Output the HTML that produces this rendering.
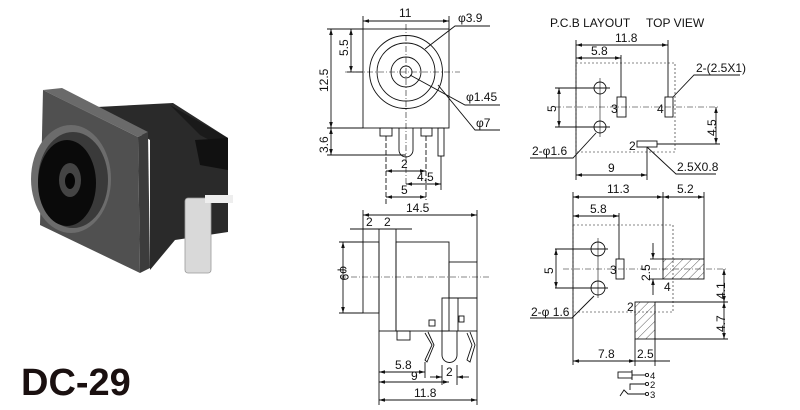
<!DOCTYPE html>
<html><head><meta charset="utf-8"><style>
html,body{margin:0;padding:0;background:#fff;width:800px;height:410px;overflow:hidden}
svg{display:block}
text{font-family:"Liberation Sans",Arial,sans-serif;fill:#111}
</style></head><body>
<svg width="800" height="410" viewBox="0 0 800 410" xmlns="http://www.w3.org/2000/svg">
<defs>
<marker id="a" viewBox="0 0 10 6" refX="10" refY="3" markerWidth="8" markerHeight="4" orient="auto-start-reverse"><path d="M0,0L10,3L0,6z" fill="#111"/></marker>
<pattern id="h" width="6" height="6" patternUnits="userSpaceOnUse" patternTransform="rotate(45)"><line x1="0" y1="0" x2="0" y2="6" stroke="#333" stroke-width="0.8"/></pattern>
</defs>

<!-- photo -->
<g>
<polygon points="97,107 173,103 228,138 228,232 175,240 150,270 150,140" fill="#2a2a2a"/>
<polygon points="170,105 228,138 228,150 200,135" fill="#1a1a1a"/>
<polygon points="195,140 228,138 228,170 200,165" fill="#111"/>
<polygon points="43,90 62,88 148,132 138,137" fill="#6a6a6a"/>
<polygon points="138,137 148,132 150,268 140,273" fill="#3c3c3c"/>
<polygon points="43,90 138,137 140,273 40,225" fill="#505050"/>
<ellipse cx="71" cy="179" rx="40" ry="54" fill="#6c6c6c"/>
<ellipse cx="73" cy="180" rx="35" ry="48" fill="#3a3a3a"/>
<ellipse cx="67" cy="183" rx="29" ry="43" fill="#0a0a0a"/>
<ellipse cx="70" cy="180" rx="11" ry="17" fill="#444"/>
<ellipse cx="70" cy="181" rx="5" ry="8" fill="#050505"/>
<rect x="185" y="198" width="26" height="75" rx="3" fill="#d9d9d9" stroke="#999" stroke-width="0.8"/>
<rect x="205" y="195" width="28" height="8" fill="#eee"/>
</g>
<text x="21" y="395" font-size="38" font-weight="bold" style="fill:#1a1010">DC-29</text>

<g stroke="#111" stroke-width="0.9" fill="none">
<!-- front view -->
<rect x="363" y="29" width="86" height="99"/>
<circle cx="406" cy="72" r="36.5"/>
<circle cx="406" cy="72" r="29"/>
<circle cx="406" cy="72" r="15"/>
<circle cx="406" cy="72" r="6"/>
<line x1="406" y1="24" x2="406" y2="185" stroke-dasharray="6,2,1,2" stroke-width="0.6"/>
<line x1="345" y1="72" x2="460" y2="72" stroke-dasharray="6,2,1,2" stroke-width="0.6"/>
<rect x="380" y="128" width="12" height="8"/>
<rect x="421" y="128" width="11" height="8"/>
<path d="M399,128V150a7,7 0 0 0 14,0V128"/>
<rect x="438" y="128" width="6" height="28"/>
<line x1="363" y1="29" x2="363" y2="16"/><line x1="449" y1="29" x2="449" y2="16"/>
<line x1="363" y1="21" x2="449" y2="21" marker-start="url(#a)" marker-end="url(#a)"/>
<line x1="327" y1="29" x2="363" y2="29"/><line x1="327" y1="128" x2="363" y2="128"/>
<line x1="331" y1="29" x2="331" y2="128" marker-start="url(#a)" marker-end="url(#a)"/>
<line x1="347" y1="72" x2="363" y2="72"/>
<line x1="351" y1="29" x2="351" y2="72" marker-start="url(#a)" marker-end="url(#a)"/>
<line x1="327" y1="155" x2="406" y2="155"/>
<line x1="331" y1="128" x2="331" y2="155" marker-start="url(#a)" marker-end="url(#a)"/>
<line x1="386" y1="136" x2="386" y2="205" stroke-dasharray="5,2"/>
<line x1="426" y1="136" x2="426" y2="200" stroke-dasharray="5,2"/>
<line x1="441" y1="156" x2="441" y2="190"/>
<line x1="386" y1="171" x2="426" y2="171" marker-start="url(#a)" marker-end="url(#a)"/>
<line x1="406" y1="184" x2="441" y2="184" marker-start="url(#a)" marker-end="url(#a)"/>
<line x1="386" y1="197" x2="426" y2="197" marker-start="url(#a)" marker-end="url(#a)"/>
<polyline points="425,49 455,26 490,26"/>
<polyline points="410,75 465,105 500,105"/>
<polyline points="438,85 475,130 500,130"/>

<!-- side view -->
<line x1="363" y1="215" x2="477" y2="215" marker-start="url(#a)" marker-end="url(#a)"/>
<line x1="363" y1="210" x2="363" y2="242"/><line x1="477" y1="210" x2="477" y2="262"/>
<line x1="350" y1="229" x2="412" y2="229"/>
<rect x="363" y="242" width="16" height="71"/>
<rect x="379" y="229" width="17" height="102"/>
<rect x="396" y="242" width="53" height="89"/>
<rect x="449" y="262" width="28" height="36"/>
<rect x="442" y="298" width="35" height="33"/>
<line x1="458" y1="298" x2="458" y2="331"/>
<line x1="340" y1="277" x2="490" y2="277" stroke-dasharray="6,2,1,2" stroke-width="0.6"/>
<line x1="339" y1="242" x2="363" y2="242"/><line x1="339" y1="313" x2="363" y2="313"/>
<line x1="343" y1="242" x2="343" y2="313" marker-start="url(#a)" marker-end="url(#a)"/>
<rect x="397" y="331" width="13" height="9"/>
<rect x="429" y="320" width="6" height="6"/>
<rect x="459" y="316" width="5" height="6"/>
<polyline points="425,333 432,345 425,360 427,362 434,345 428,332"/>
<path d="M442,331V355a7.5,7.5 0 0 0 15,0V331"/>
<polyline points="467,333 472,345 467,360 470,362 475,345 470,332"/>
<line x1="379" y1="331" x2="379" y2="405"/>
<line x1="425" y1="362" x2="425" y2="378"/>
<line x1="442" y1="365" x2="442" y2="385"/><line x1="457" y1="365" x2="457" y2="385"/>
<line x1="477" y1="331" x2="477" y2="405"/>
<line x1="379" y1="372" x2="425" y2="372" marker-start="url(#a)" marker-end="url(#a)"/>
<line x1="379" y1="382" x2="449" y2="382" marker-start="url(#a)" marker-end="url(#a)"/>
<line x1="430" y1="377" x2="442" y2="377" marker-end="url(#a)"/>
<line x1="469" y1="377" x2="457" y2="377" marker-end="url(#a)"/>
<line x1="379" y1="400" x2="477" y2="400" marker-start="url(#a)" marker-end="url(#a)"/>

<!-- PCB top -->
<line x1="576" y1="40" x2="576" y2="180"/><line x1="668" y1="40" x2="668" y2="97"/>
<line x1="576" y1="45" x2="668" y2="45" marker-start="url(#a)" marker-end="url(#a)"/>
<line x1="621" y1="55" x2="621" y2="97"/>
<line x1="576" y1="58" x2="621" y2="58" marker-start="url(#a)" marker-end="url(#a)"/>
<rect x="576" y="63" width="99" height="89" stroke-dasharray="2,2" stroke-width="0.6"/>
<circle cx="600" cy="88" r="6"/><circle cx="600" cy="127" r="6"/>
<line x1="600" y1="78" x2="600" y2="137" stroke-width="0.6"/>
<line x1="555" y1="88" x2="610" y2="88"/><line x1="555" y1="127" x2="610" y2="127"/>
<line x1="559" y1="88" x2="559" y2="127" marker-start="url(#a)" marker-end="url(#a)"/>
<rect x="617" y="97" width="9" height="20"/><rect x="665" y="97" width="8" height="20"/>
<line x1="555" y1="107" x2="720" y2="107" stroke-dasharray="6,2,1,2" stroke-width="0.6"/>
<rect x="637" y="141" width="20" height="6"/>
<line x1="657" y1="144" x2="720" y2="144"/>
<line x1="716" y1="107" x2="716" y2="144" marker-start="url(#a)" marker-end="url(#a)"/>
<polyline points="673,97 694,75 740,75"/>
<polyline points="596,133 573,158 530,158"/>
<line x1="647" y1="147" x2="647" y2="180"/>
<line x1="576" y1="175" x2="647" y2="175" marker-start="url(#a)" marker-end="url(#a)"/>
<polyline points="647,147 676,174 716,174"/>

<!-- PCB bottom -->
<line x1="573" y1="192" x2="573" y2="365"/><line x1="663" y1="192" x2="663" y2="259"/><line x1="704" y1="192" x2="704" y2="259"/>
<line x1="573" y1="197" x2="663" y2="197" marker-start="url(#a)" marker-end="url(#a)"/>
<line x1="663" y1="197" x2="704" y2="197" marker-start="url(#a)" marker-end="url(#a)"/>
<line x1="619" y1="213" x2="619" y2="259"/>
<line x1="573" y1="216" x2="619" y2="216" marker-start="url(#a)" marker-end="url(#a)"/>
<rect x="573" y="225" width="100" height="87" stroke-dasharray="2,2" stroke-width="0.6"/>
<circle cx="598" cy="249" r="7"/><circle cx="598" cy="288" r="7"/>
<line x1="598" y1="238" x2="598" y2="298" stroke-width="0.6"/>
<line x1="555" y1="249" x2="608" y2="249"/><line x1="555" y1="288" x2="608" y2="288"/>
<line x1="556" y1="249" x2="556" y2="288" marker-start="url(#a)" marker-end="url(#a)"/>
<rect x="616" y="259" width="8" height="20"/>
<line x1="563" y1="269" x2="728" y2="269" stroke-dasharray="6,2,1,2" stroke-width="0.6"/>
<rect x="663" y="259" width="41" height="20" fill="url(#h)"/>
<rect x="635" y="302" width="20" height="37" fill="url(#h)"/>
<line x1="650" y1="259" x2="663" y2="259"/><line x1="650" y1="279" x2="663" y2="279"/>
<line x1="653" y1="243" x2="653" y2="259" marker-end="url(#a)"/><line x1="653" y1="295" x2="653" y2="279" marker-end="url(#a)"/>
<line x1="655" y1="302" x2="728" y2="302"/><line x1="655" y1="339" x2="728" y2="339"/>
<line x1="724" y1="269" x2="724" y2="302" marker-start="url(#a)" marker-end="url(#a)"/>
<line x1="724" y1="302" x2="724" y2="339" marker-start="url(#a)" marker-end="url(#a)"/>
<polyline points="594,296 572,318 530,318"/>
<line x1="635" y1="339" x2="635" y2="366"/><line x1="655" y1="339" x2="655" y2="366"/>
<line x1="573" y1="361" x2="635" y2="361" marker-start="url(#a)" marker-end="url(#a)"/>
<line x1="635" y1="361" x2="670" y2="361"/>
<!-- legend -->
<rect x="618" y="372" width="14" height="6"/><line x1="632" y1="370" x2="632" y2="380"/>
<line x1="632" y1="375" x2="645" y2="375"/><circle cx="647" cy="375" r="1.6"/>
<polyline points="630,390 630,384 645,384"/><circle cx="647" cy="384" r="1.6"/>
<polyline points="620,396 624,390 628,394 645,394"/><circle cx="647" cy="394" r="1.6"/>
</g>

<g font-size="12">
<text x="399" y="17">11</text>
<text x="458" y="22">φ3.9</text>
<text x="466" y="101">φ1.45</text>
<text x="476" y="127">φ7</text>
<text transform="translate(328,92) rotate(-90)">12.5</text>
<text transform="translate(348,56) rotate(-90)">5.5</text>
<text transform="translate(328,153) rotate(-90)">3.6</text>
<text x="401" y="168">2</text>
<text x="417" y="181">4.5</text>
<text x="401" y="194">5</text>
<text x="406" y="212">14.5</text>
<text x="366" y="226">2</text><text x="384" y="226">2</text>
<text transform="translate(340,266) rotate(90)">φ9</text>
<text x="395" y="369">5.8</text>
<text x="411" y="380">9</text>
<text x="446" y="376">2</text>
<text x="414" y="397">11.8</text>
<text x="550" y="27">P.C.B LAYOUT</text><text x="646" y="27">TOP VIEW</text>
<text x="615" y="42">11.8</text>
<text x="591" y="55">5.8</text>
<text x="696" y="72">2-(2.5X1)</text>
<text transform="translate(556,112) rotate(-90)">5</text>
<text x="611" y="113">3</text><text x="657" y="113">4</text>
<text x="629" y="150">2</text>
<text transform="translate(716,136) rotate(-90)">4.5</text>
<text x="532" y="155">2-φ1.6</text>
<text x="608" y="172">9</text>
<text x="677" y="171">2.5X0.8</text>
<text x="607" y="193">11.3</text><text x="677" y="193">5.2</text>
<text x="590" y="213">5.8</text>
<text transform="translate(553,274) rotate(-90)">5</text>
<text x="610" y="274">3</text><text x="664" y="291">4</text>
<text transform="translate(650,281) rotate(-90)">2.5</text>
<text x="627" y="311">2</text>
<text transform="translate(725,299) rotate(-90)">4.1</text>
<text transform="translate(725,332) rotate(-90)">4.7</text>
<text x="531" y="316">2-φ 1.6</text>
<text x="598" y="358">7.8</text>
<text x="637" y="358">2.5</text>
<text x="650" y="379" font-size="9.5">4</text>
<text x="650" y="388" font-size="9.5">2</text>
<text x="650" y="398" font-size="9.5">3</text>
</g>
</svg>
</body></html>
